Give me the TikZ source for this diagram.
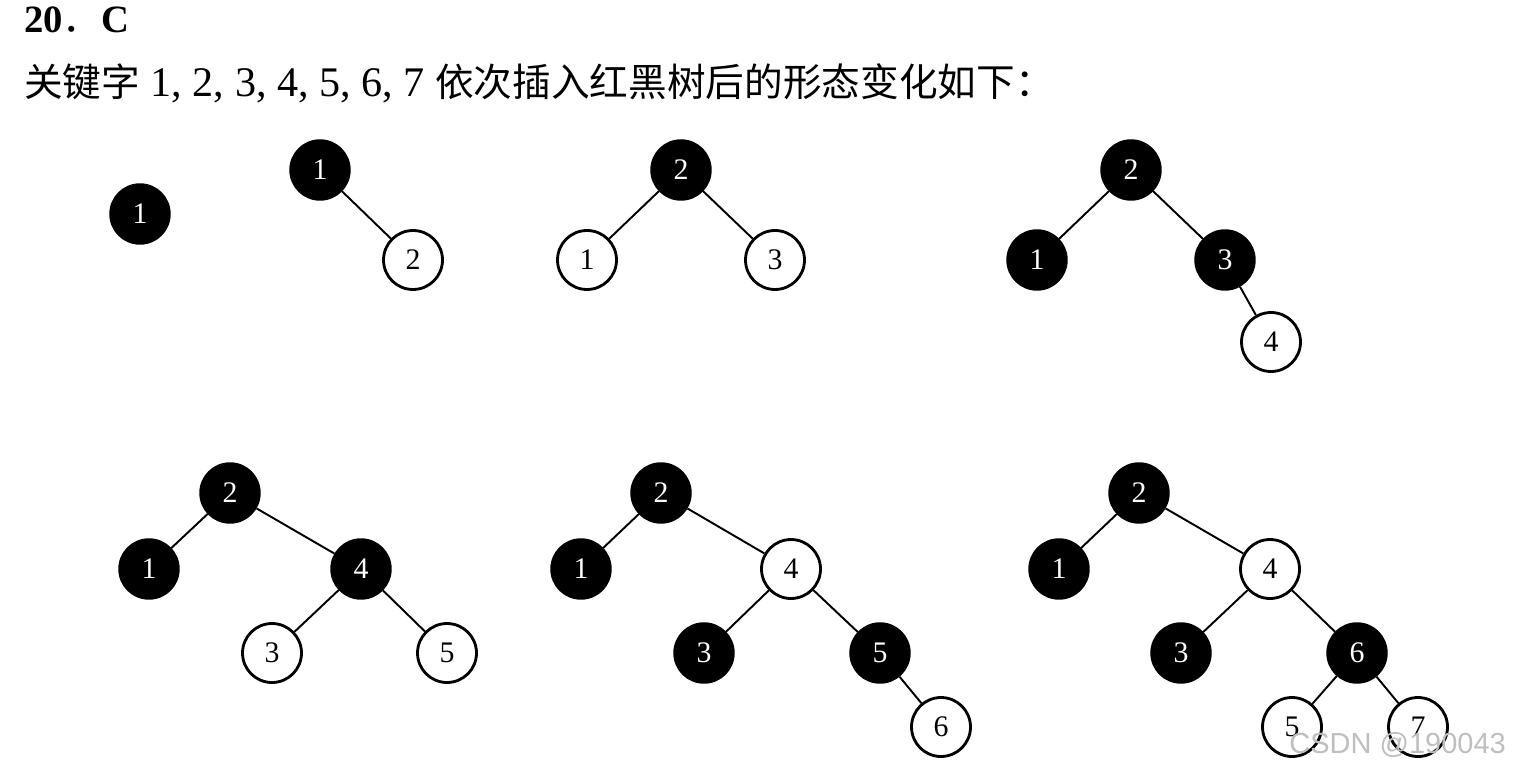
\documentclass[tikz,border=0pt]{standalone}
\usepackage{fontspec}
\setmainfont{Liberation Serif}
\newfontfamily\cjk{Noto Sans CJK SC}
\newfontfamily\wmfont{Liberation Sans}
\usetikzlibrary{positioning}
\tikzset{
  blk/.style={circle,draw=black,fill=black,line width=1.4pt,
    minimum size=1.18cm,inner sep=0pt,font=\fontsize{17}{17}\selectfont,text=white},
  red/.style={circle,draw=black,fill=white,line width=1.6pt,
    minimum size=1.18cm,inner sep=0pt,font=\fontsize{17}{17}\selectfont,text=black},
  edg/.style={line width=1.1pt},
}
\newcommand{\zh}[1]{{\cjk\fontsize{22}{22}\selectfont #1}}

\begin{document}
\begin{tikzpicture}[x=0.02cm,y=-0.02cm]
  \useasboundingbox (0,0) rectangle (1514,773);

  % heading
  \node[anchor=west,font=\fontsize{22}{22}\selectfont\bfseries] (title) at (18,20)
    {20{\cjk\mdseries ．}C};
  \node[anchor=west,font=\fontsize{24}{24}\selectfont] (caption) at (18,83)
    {\zh{关键字} 1, 2, 3, 4, 5, 6, 7 \zh{依次插入红黑树后的形态变化如下：}};

  % insert 1
  \node[blk] (a1) at (140,214) {1};

  % insert 2
  \node[blk] (b1) at (320,170) {1};
  \node[red] (b2) at (413,260) {2};
  \draw[edg] (b1) -- (b2);

  % insert 3
  \node[blk] (c2) at (681,170) {2};
  \node[red] (c1) at (587,260) {1};
  \node[red] (c3) at (775,260) {3};
  \draw[edg] (c2) -- (c1);
  \draw[edg] (c2) -- (c3);

  % insert 4
  \node[blk] (d2) at (1131,170) {2};
  \node[blk] (d1) at (1037,260) {1};
  \node[blk] (d3) at (1225,260) {3};
  \node[red] (d4) at (1271,342) {4};
  \draw[edg] (d2) -- (d1);
  \draw[edg] (d2) -- (d3);
  \draw[edg] (d3) -- (d4);

  % insert 5
  \node[blk] (e2) at (230,493) {2};
  \node[blk] (e1) at (149,569) {1};
  \node[blk] (e4) at (361,569) {4};
  \node[red] (e3) at (272,653) {3};
  \node[red] (e5) at (447,653) {5};
  \draw[edg] (e2) -- (e1);
  \draw[edg] (e2) -- (e4);
  \draw[edg] (e4) -- (e3);
  \draw[edg] (e4) -- (e5);

  % insert 6
  \node[blk] (f2) at (661,493) {2};
  \node[blk] (f1) at (581,569) {1};
  \node[red] (f4) at (791,569) {4};
  \node[blk] (f3) at (704,653) {3};
  \node[blk] (f5) at (880,653) {5};
  \node[red] (f6) at (941,727) {6};
  \draw[edg] (f2) -- (f1);
  \draw[edg] (f2) -- (f4);
  \draw[edg] (f4) -- (f3);
  \draw[edg] (f4) -- (f5);
  \draw[edg] (f5) -- (f6);

  % insert 7
  \node[blk] (g2) at (1139,493) {2};
  \node[blk] (g1) at (1059,569) {1};
  \node[red] (g4) at (1270,569) {4};
  \node[blk] (g3) at (1181,653) {3};
  \node[blk] (g6) at (1357,653) {6};
  \node[red] (g5) at (1292,727) {5};
  \node[red] (g7) at (1418,727) {7};
  \draw[edg] (g2) -- (g1);
  \draw[edg] (g2) -- (g4);
  \draw[edg] (g4) -- (g3);
  \draw[edg] (g4) -- (g6);
  \draw[edg] (g6) -- (g5);
  \draw[edg] (g6) -- (g7);

  % watermark
  \node[anchor=east,font=\wmfont\fontsize{16.5}{16.5}\selectfont,text=black!25] (mark) at (1512,745)
    {CSDN @190043};
\end{tikzpicture}
\end{document}
